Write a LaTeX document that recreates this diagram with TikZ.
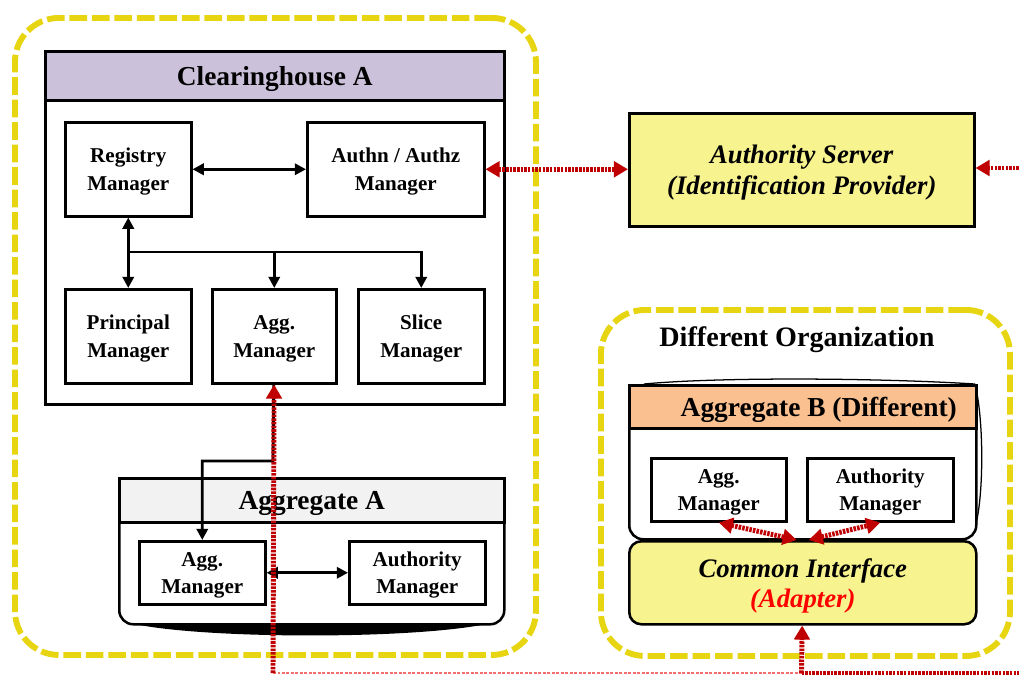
\documentclass[tikz,border=0pt]{standalone}
\usepackage{fontspec}
\setmainfont{Liberation Serif}
\usetikzlibrary{calc,arrows.meta}
\definecolor{lavande}{HTML}{CCC1DA}
\definecolor{grisclair}{HTML}{F2F2F2}
\definecolor{saumon}{HTML}{FAC090}
\definecolor{jaunepale}{HTML}{F7F38F}
\definecolor{jauneorg}{HTML}{E6D510}
\definecolor{rougefonce}{HTML}{C00000}
\definecolor{rougeclair}{HTML}{F07070}
\tikzstyle{manager} = [rectangle, draw=black, line width=1.8pt, fill=white, align=center, inner sep=0pt, text depth=0pt, font=\bfseries\fontsize{15}{20}\selectfont]
\tikzstyle{header} = [rectangle, draw=black, line width=1.8pt, inner sep=0pt, text depth=0pt, font=\bfseries\fontsize{19.5}{23}\selectfont]
\tikzstyle{body} = [rectangle, draw=black, line width=1.8pt, fill=white, inner sep=0pt]
\tikzstyle{orga} = [rectangle, draw=jauneorg, line width=4.2pt, dash pattern=on 12.5pt off 3.5pt, rounded corners=1.1cm, inner sep=0pt]
\tikzstyle{lien} = [line width=2pt, >={Triangle[length=8pt,width=8pt]}]
\tikzstyle{signal} = [draw=rougefonce, line width=3.5pt, dash pattern=on 1.8pt off 0.8pt, >={Triangle[length=10pt,width=11pt]}]

\begin{document}
\begin{tikzpicture}
    \useasboundingbox (0,0) rectangle (25.475,-16.875);

    % organisations
    \node (orgA) [orga, anchor=north west, minimum width=13.025cm, minimum height=15.925cm] at (0.3,-0.375) {};
    \node (orgB) [orga, anchor=north west, minimum width=10.225cm, minimum height=8.65cm] at (14.95,-7.675) {};
    \node (titreOrgB) [font=\bfseries\fontsize{20}{24}\selectfont] at (19.925,-8.5) {Different Organization};

    % clearinghouse
    \node (chBody) [body, anchor=north west, minimum width=11.475cm, minimum height=8.825cm] at (1.1,-1.25) {};
    \node (chTitre) [header, anchor=north west, fill=lavande, minimum width=11.475cm, minimum height=1.225cm] at (1.1,-1.25) {Clearinghouse A};
    \node (registry) [manager, anchor=north west, minimum width=3.15cm, minimum height=2.35cm] at (1.6,-3.025) {Registry\\Manager};
    \node (authn) [manager, anchor=north west, minimum width=4.425cm, minimum height=2.35cm] at (7.65,-3.025) {Authn / Authz\\Manager};
    \node (principal) [manager, anchor=north west, minimum width=3.15cm, minimum height=2.35cm] at (1.6,-7.2) {Principal\\Manager};
    \node (aggCH) [manager, anchor=north west, minimum width=3.1cm, minimum height=2.35cm] at (5.275,-7.2) {Agg.\\Manager};
    \node (slice) [manager, anchor=north west, minimum width=3.15cm, minimum height=2.35cm] at (8.925,-7.2) {Slice\\Manager};

    % aggregate A
    \fill ($(2.95,-15.575)+(0.3,0)$) .. controls (5,-15.99) and (10.5,-15.99) .. ($(12.575,-15.575)+(-0.3,0)$) -- cycle;
    \node (aggABody) [body, anchor=north west, rounded corners=0.35cm, minimum width=9.625cm, minimum height=3.65cm] at (2.95,-11.925) {};
    \node (aggATitre) [header, anchor=north west, fill=grisclair, minimum width=9.625cm, minimum height=1.1cm] at (2.95,-11.925) {Aggregate A};
    \node (aggAMgr) [manager, anchor=north west, minimum width=3.15cm, minimum height=1.575cm, font=\bfseries\fontsize{15}{19}\selectfont] at (3.45,-13.5) {Agg.\\Manager};
    \node (authAMgr) [manager, anchor=north west, minimum width=3.4cm, minimum height=1.575cm, font=\bfseries\fontsize{15}{19}\selectfont] at (8.7,-13.5) {Authority\\Manager};

    % serveur d'autorite
    \node (authServer) [rectangle, draw=black, line width=1.8pt, fill=jaunepale, anchor=north west, minimum width=8.625cm, minimum height=2.825cm, align=center, text depth=0pt, font=\bfseries\itshape\fontsize{19}{21.5}\selectfont] at (15.7,-2.8) {Authority Server\\(Identification Provider)};

    % aggregate B
    \draw[line width=0.9pt] (16.1,-9.6) .. controls (18,-9.42) and (22,-9.45) .. (24.375,-9.6);
    \draw[line width=0.9pt] (24.375,-9.6) .. controls (24.6,-10.5) and (24.6,-12.4) .. (24.375,-13.2);
    \node (aggBBody) [body, anchor=north west, rounded corners=0.35cm, minimum width=8.675cm, minimum height=3.85cm] at (15.7,-9.6) {};
    \node (aggBTitre) [header, anchor=north west, fill=saumon, minimum width=8.675cm, minimum height=1.075cm] at (15.7,-9.6) {\hspace*{0.8cm}Aggregate B (Different)};
    \node (aggBMgr) [manager, anchor=north west, minimum width=3.375cm, minimum height=1.575cm, font=\bfseries\fontsize{15}{19}\selectfont] at (16.25,-11.425) {Agg.\\Manager};
    \node (authBMgr) [manager, anchor=north west, minimum width=3.65cm, minimum height=1.575cm, font=\bfseries\fontsize{15}{19}\selectfont] at (20.15,-11.425) {Authority\\Manager};
    \node (common) [rectangle, draw=black, line width=1.8pt, fill=jaunepale, rounded corners=0.3cm, anchor=north west, minimum width=8.675cm, minimum height=2.075cm, align=center, text depth=0pt, font=\bfseries\itshape\fontsize{19}{21.5}\selectfont] at (15.7,-13.5) {Common Interface\\\textcolor{red}{(Adapter)}};

    % liens internes
    \coordinate (branch) at (3.175,-6.3);
    \coordinate (coude) at (6.825,-11.525);
    \draw[lien,<->] (registry) -- (authn);
    \draw[lien,<->] (registry) -- (principal);
    \draw[lien,->] (branch) -| (aggCH);
    \draw[lien,->] (branch) -| (slice);
    \draw[lien,->] (aggCH) -- (coude) -| (aggAMgr);
    \draw[lien,<->] (aggAMgr) -- (authAMgr);

    % signaux
    \coordinate (portA) at (6.825,-16.825);
    \coordinate (portB) at (20.0375,-16.825);
    \coordinate (sortieEst) at (25.475,-16.825);
    \coordinate (entreeEst) at (25.475,-4.2);
    \draw[rougeclair, line width=0.8pt, dash pattern=on 2pt off 1.2pt] (portA) -- (portB);
    \draw[signal] (portB) -- (sortieEst);
    \draw[signal,->] (portA) -- (aggCH);
    \draw[signal,->] (portB) -- (common);
    \draw[signal,<->] (authn.east) -- (authn.east -| authServer.west);
    \draw[signal,->] (entreeEst) -- (authServer.east |- entreeEst);
    \draw[signal,<->] ($(common.north)+(-0.15,0)$) -- (aggBMgr.south);
    \draw[signal,<->] ($(common.north)+(0.15,0)$) -- (authBMgr.south);
\end{tikzpicture}
\end{document}
